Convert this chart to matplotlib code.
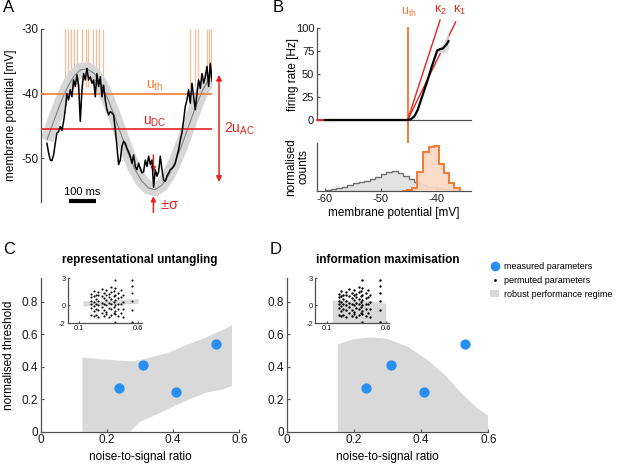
import numpy as np
import matplotlib.pyplot as plt
from matplotlib.lines import Line2D
from matplotlib.patches import Patch

plt.rcParams['font.family'] = ['Liberation Sans', 'DejaVu Sans']
plt.rcParams['mathtext.default'] = 'regular'
plt.rcParams['axes.unicode_minus'] = False

W, H = 617, 465
ORANGE = '#F07D3A'
SPIKE = '#F6BE98'
RED = '#E8231F'
BLUE = '#2A8FF0'
GREY = '#D9D9D9'
SPINE = '#505050'

# ---------------- panel A : membrane potential trace ----------------
dt_trace = 6.17  # ms between samples
trace_mv = [-47.7, -49.2, -50.3, -50.4, -49.5, -47.7, -46.1, -45.9, -45.1, -45.7,
            -44.3, -42.5, -40.0, -41.0, -39.4, -40.5, -37.9, -38.9, -37.1, -38.7,
            -44.3, -39.4, -36.9, -37.9, -36.1, -37.9, -37.4, -38.4, -37.9, -40.5,
            -36.9, -38.9, -37.4, -40.5, -38.7, -41.0, -42.5, -43.3, -42.8, -43.0,
            -43.3, -45.6, -48.2, -51.0, -50.3, -48.2, -47.4, -47.7, -48.5, -49.0,
            -49.7, -50.8, -49.5, -51.3, -51.8, -50.8, -51.6, -52.3, -52.1, -50.3,
            -51.3, -49.7, -51.0, -50.3, -54.5, -51.8, -52.8, -52.1, -49.7, -51.8,
            -53.4, -53.6, -52.8, -52.3, -51.8, -51.6, -51.3, -50.8, -49.7, -48.7,
            -47.2, -46.1, -44.1, -42.0, -41.0, -39.4, -41.5, -38.4, -40.5, -42.5,
            -40.0, -37.9, -39.2, -36.9, -38.4, -37.4, -35.8, -38.9, -35.3, -37.9,
            -38.9]
sine_t = [0, 25, 50, 75, 100, 125, 150, 175, 200, 225, 250, 275, 300, 325,
          350, 375, 400, 425, 450, 475, 500, 525, 550, 575, 600, 611]
sine_mv = [-47.2, -44.3, -41.5, -39.1, -37.3, -36.3, -36.2, -36.9, -38.5, -40.8,
           -43.5, -46.4, -49.2, -51.7, -53.5, -54.6, -54.9, -54.2, -52.7, -50.5,
           -47.9, -45.0, -42.1, -39.6, -37.7, -37.0]
spike_t = [66.7, 78.9, 88.9, 100.0, 112.2, 130.7, 143.3, 153.0, 171.5, 181.5,
           191.5, 206.3, 529.6, 548.1, 560.4, 591.5, 600.0, 607.4]
u_th = -40.0
u_dc = -45.5
u_ac_top, u_ac_bottom = -37.1, -53.7

# ---------------- panel B : transfer function + histograms ----------------
rate_mv = [-60.0, -45.2, -44.6, -44.0, -43.4, -42.8, -42.2, -41.6, -41.0, -40.4,
           -39.9, -39.5, -38.9, -38.3, -37.9]
rate_hz = [0, 0, 1, 4, 11, 22, 33, 44, 56, 67, 76, 77, 78, 82, 86]
rate_sd = [0, 0, 0, 0, 0, 0, 0, 0, 0, 1, 2, 3, 5, 7, 8]
kappa1_mv, kappa1_hz = [-61.4, -45.2, -36.6], [0, 0, 107]
kappa2_mv, kappa2_hz = [-61.4, -45.2, -39.4], [0, 0, 109]
b_th = -45.2

sub_edges = list(range(-60, -35))
sub_counts = [0.02, 0.04, 0.07, 0.10, 0.14, 0.17, 0.20, 0.23, 0.27, 0.32, 0.37,
              0.43, 0.45, 0.39, 0.33, 0.27, 0.19, 0.14, 0.10, 0.08, 0.06, 0.04,
              0.03, 0.015]
supra_edges = [-46.3, -45.3, -44.4, -43.45, -42.45, -41.45, -40.5, -39.6, -38.7,
               -37.8, -36.9, -35.9]
supra_counts = [0.01, 0.02, 0.06, 0.43, 0.87, 0.98, 1.0, 0.61, 0.39, 0.18, 0.06]

# ---------------- panels C, D ----------------
measured_nsr = [0.236, 0.309, 0.409, 0.531]
measured_thr = [0.271, 0.410, 0.242, 0.537]

c_top_x = [0.126, 0.211, 0.281, 0.381, 0.441, 0.501, 0.561, 0.578]
c_top_y = [0.455, 0.441, 0.431, 0.482, 0.533, 0.580, 0.636, 0.656]
c_bot_x = [0.578, 0.55, 0.50, 0.45, 0.40, 0.35, 0.30, 0.27, 0.126]
c_bot_y = [0.281, 0.26, 0.24, 0.20, 0.154, 0.105, 0.06, 0.0, 0.0]

d_top_x = [0.152, 0.20, 0.25, 0.30, 0.36, 0.42, 0.47, 0.52, 0.57, 0.60]
d_top_y = [0.537, 0.57, 0.58, 0.57, 0.523, 0.44, 0.35, 0.236, 0.14, 0.10]

perm_x = ([0.20] * 6 + [0.22] * 6 + [0.24] * 5 + [0.26] * 6 + [0.29] * 5 +
          [0.31] * 5 + [0.33] * 6 + [0.35] * 5 + [0.37] * 6 + [0.39] * 5 +
          [0.40] * 8 + [0.43] * 5 + [0.45] * 4 + [0.47] * 4 + [0.55] * 6)
perm_y = [1.3, 0.9, 0.5, 0.1, -0.3, -1.1,
          1.6, 1.0, 0.4, -0.1, -0.6, -1.2,
          1.2, 0.7, 0.2, -0.4, -1.1,
          1.5, 1.1, 0.5, 0.0, -0.5, -1.3,
          1.8, 1.0, 0.3, -0.2, -0.9,
          1.4, 0.8, 0.1, -0.5, -1.2,
          1.7, 1.2, 0.6, 0.0, -0.7, -1.0,
          1.3, 0.9, 0.3, -0.3, -1.3,
          2.0, 1.5, 0.7, 0.2, -0.4, -1.1,
          1.6, 1.0, 0.4, -0.2, -0.8,
          2.8, 1.9, 1.2, 0.6, 0.0, -0.6, -1.0, -1.9,
          1.4, 0.8, 0.2, -0.4, -1.2,
          1.7, 0.9, 0.1, -0.9,
          1.2, 0.4, -0.4, -1.3,
          2.8, 2.1, 1.4, 0.5, -0.5, -1.9]

c_band_x = [0.13, 0.60]
c_band_lo = [-0.08, 0.22]
c_band_hi = [0.50, 0.73]
d_in_x = [0.147, 0.43, 0.60]
d_in_top = [0.60, 0.58, 0.22]


def box(l, t, r, b):
    return [l / W, 1 - b / H, (r - l) / W, (b - t) / H]


def style(ax, left=True, bottom=True, size=8.5):
    for s in ['top', 'right']:
        ax.spines[s].set_visible(False)
    ax.spines['left'].set_visible(left)
    ax.spines['bottom'].set_visible(bottom)
    for s in ['left', 'bottom']:
        ax.spines[s].set_color(SPINE)
        ax.spines[s].set_linewidth(0.9)
    ax.tick_params(direction='in', length=2.5, width=0.8, color=SPINE,
                   labelsize=size, labelcolor='#1a1a1a', pad=2)


fig = plt.figure(figsize=(W / 100, H / 100), dpi=100)

# ---------- A ----------
ax = fig.add_axes(box(41, 29, 212, 202))
style(ax, bottom=False)
ax.set_xlim(-22, 611)
ax.set_ylim(-56.8, -30)
ax.set_xticks([])
ax.set_yticks([-30, -40, -50])
ax.set_ylabel('membrane potential [mV]', fontsize=8.5)
ax.yaxis.set_label_coords(-0.14, 0.5)
ax.vlines(spike_t, -39.0, -30, color=SPIKE, lw=0.9, zorder=1)
ax.plot(sine_t, sine_mv, color='0.84', lw=9.5, solid_capstyle='butt', zorder=2)
ax.plot(sine_t, sine_mv, color='0.5', lw=0.8, zorder=3)
ax.axhline(u_th, color=ORANGE, lw=1.2, zorder=4)
ax.axhline(u_dc, color=RED, lw=1.2, zorder=4)
t = np.arange(len(trace_mv)) * dt_trace
ax.plot(t, trace_mv, color='black', lw=1.1, zorder=5)
ax.text(400, -38.8, 'u$_{th}$', color=ORANGE, fontsize=10, ha='center', va='center')
ax.text(400, -44.3, 'u$_{DC}$', color=RED, fontsize=10, ha='center', va='center')
ax.annotate('', xy=(637, u_ac_bottom), xytext=(637, u_ac_top), annotation_clip=False,
            arrowprops=dict(arrowstyle='<|-|>', color=RED, lw=1.1, shrinkA=0, shrinkB=0,
                            mutation_scale=8))
ax.text(657, -45.5, '2u$_{AC}$', color=RED, fontsize=10, ha='left', va='center',
        clip_on=False)
ax.annotate('', xy=(394, -52.2), xytext=(394, -49.5), annotation_clip=False,
            arrowprops=dict(arrowstyle='-|>', color=RED, lw=1.1, shrinkA=0, shrinkB=0,
                            mutation_scale=7))
ax.annotate('', xy=(394, -55.9), xytext=(394, -58.4), annotation_clip=False,
            arrowprops=dict(arrowstyle='-|>', color=RED, lw=1.1, shrinkA=0, shrinkB=0,
                            mutation_scale=7))
ax.text(420, -57.2, r'$\pm\sigma$', color=RED, fontsize=10.5, ha='left', va='center',
        clip_on=False)
ax.plot([81.5, 181.5], [-56.7, -56.7], color='black', lw=3, solid_capstyle='butt',
        clip_on=False)
ax.text(131.5, -55.2, '100 ms', fontsize=8, ha='center', va='center')

# ---------- B ----------
b1 = fig.add_axes(box(317, 28.3, 471, 120))
style(b1, size=8)
b1.set_xlim(-61.43, -33.86)
b1.set_ylim(0, 100)
b1.set_xticks([])
b1.set_yticks([0, 25, 50, 75, 100])
b1.set_ylabel('firing rate [Hz]', fontsize=8.5)
b1.yaxis.set_label_coords(-0.115, 0.5)
b1.plot([b_th, b_th], [100, -77.4], color=ORANGE, lw=1.4, clip_on=False, zorder=2)
b1.plot(kappa1_mv, kappa1_hz, color=RED, lw=1.0, clip_on=False, zorder=3)
b1.plot(kappa2_mv, kappa2_hz, color=RED, lw=1.0, clip_on=False, zorder=3)
rm, rh, rs = np.array(rate_mv), np.array(rate_hz), np.array(rate_sd)
b1.fill_between(rm, rh - rs, rh + rs, color='0.85', lw=0, zorder=3, clip_on=False)
b1.plot(rm, rh, color='black', lw=1.6, zorder=4, clip_on=False)
b1.text(b_th + 0.3, 117, 'u$_{th}$', color=ORANGE, fontsize=9, ha='center', va='center')
b1.text(-39.3, 119, r'$\kappa_2$', color=RED, fontsize=9, ha='center', va='center')
b1.text(-36.0, 119, r'$\kappa_1$', color=RED, fontsize=9, ha='center', va='center')

b2 = fig.add_axes(box(317, 143, 471, 191))
style(b2, size=8)
b2.set_xlim(-61.43, -33.86)
b2.set_ylim(0, 1.067)
b2.set_yticks([])
b2.set_xticks([-60, -50, -40])
b2.stairs(sub_counts, sub_edges, fill=True, color='#E3E3E3', zorder=1)
b2.stairs(sub_counts, sub_edges, color='#707070', lw=1.0, zorder=2)
b2.stairs(supra_counts, supra_edges, fill=True, color='#FAD9C3', alpha=0.9, zorder=3)
b2.stairs(supra_counts, supra_edges, color=ORANGE, lw=1.5, zorder=4)
b2.set_xlabel('membrane potential [mV]', fontsize=8.5, labelpad=2)
b2.set_ylabel('normalised\ncounts', fontsize=8.5, linespacing=1.0)
b2.yaxis.set_label_coords(-0.05, 0.5)


# ---------- C, D ----------
def panel(box_px, region_x, region_y, title, ylabel):
    a = fig.add_axes(box(*box_px))
    style(a)
    a.fill(region_x, region_y, color=GREY, lw=0, zorder=1)
    a.scatter(measured_nsr, measured_thr, s=55, color=BLUE, lw=0, zorder=3)
    a.set_xlim(0, 0.6)
    a.set_ylim(0, 0.945)
    a.set_xticks([0, 0.2, 0.4, 0.6])
    a.set_xticklabels(['0', '0.2', '0.4', '0.6'])
    a.set_yticks([0, 0.2, 0.4, 0.6, 0.8])
    a.set_yticklabels(['0', '0.2', '0.4', '0.6', '0.8'])
    a.set_xlabel('noise-to-signal ratio', fontsize=8.5, labelpad=3)
    if ylabel:
        a.set_ylabel(ylabel, fontsize=8.5)
        a.yaxis.set_label_coords(-0.13, 0.5)
    a.set_title(title, fontsize=8.5, fontweight='bold', pad=0, y=1.10)
    return a


def inset(box_px):
    a = fig.add_axes(box(*box_px))
    style(a, size=5.5)
    a.tick_params(length=1.5, pad=1.5)
    a.set_xlim(0, 0.63)
    a.set_ylim(-2, 3)
    a.set_xticks([0.1, 0.6])
    a.set_xticklabels(['0.1', '0.6'])
    a.set_yticks([-2, 0, 3])
    a.patch.set_alpha(0)
    return a


ax_c = panel((40.7, 278, 239.3, 431.7), c_top_x + c_bot_x, c_top_y + c_bot_y,
             'representational untangling', 'normalised threshold')
ins_c = inset((67.7, 278.3, 141.7, 323.3))
ins_c.fill_between(c_band_x, c_band_lo, c_band_hi, color=GREY, lw=0, zorder=1)
ins_c.plot(perm_x, perm_y, 'o', color='black', ms=1.5, mew=0, zorder=2)

ax_d = panel((286.7, 278, 488.3, 431.7), d_top_x + [0.60, 0.152], d_top_y + [0, 0],
             'information maximisation', None)
ins_d = inset((315, 278.3, 389.3, 323.3))
ins_d.fill_between(d_in_x, -2, d_in_top, color=GREY, lw=0, zorder=1)
ins_d.plot(perm_x, perm_y, 'o', color='black', ms=1.7, mew=0, zorder=2)

handles = [Line2D([], [], marker='o', ls='', color=BLUE, ms=7, mew=0),
           Line2D([], [], marker='o', ls='', color='black', ms=2, mew=0),
           Patch(color=GREY, lw=0)]
fig.legend(handles, ['measured parameters', 'permuted parameters',
                     'robust performance regime'],
           loc='upper left', bbox_to_anchor=(490 / W, 1 - 262 / H), frameon=False,
           fontsize=6.5, handlelength=1.0, handleheight=0.8, handletextpad=0.5,
           labelspacing=0.55, borderpad=0, borderaxespad=0)

# panel letters
for letter, x, y in [('A', 3, 8), ('B', 273, 8), ('C', 3, 249), ('D', 270, 249)]:
    fig.text(x / W, 1 - y / H, letter, fontsize=12, ha='left', va='center')

fig.savefig('out.png', dpi=100)
